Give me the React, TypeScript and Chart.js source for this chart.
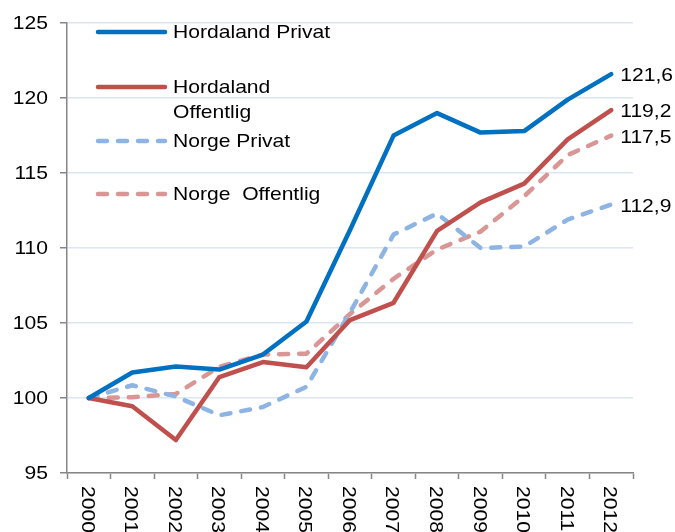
import React, { useEffect, useRef } from "react";
import { Chart, registerables } from "chart.js";

Chart.register(...registerables);

const years = ["2000", "2001", "2002", "2003", "2004", "2005", "2006", "2007", "2008", "2009", "2010", "2011", "2012"];
const hordalandPrivat = [100, 101.7, 102.1, 101.9, 102.9, 105.1, 111.2, 117.5, 119.0, 117.7, 117.8, 119.9, 121.6];
const hordalandOffentlig = [100, 99.45, 97.2, 101.4, 102.4, 102.05, 105.2, 106.35, 111.15, 113.05, 114.3, 117.25, 119.2];
const norgePrivat = [100, 100.85, 100.1, 98.85, 99.4, 100.75, 105.7, 110.9, 112.3, 110.0, 110.1, 111.9, 112.9];
const norgeOffentlig = [100, 100.05, 100.27, 102.08, 102.9, 102.96, 105.6, 107.95, 109.9, 111.1, 113.45, 116.2, 117.5];
const endLabels = ["121,6", "119,2", "112,9", "117,5"];
const seriesNames = [["Hordaland Privat"], ["Hordaland", "Offentlig"], ["Norge Privat"], ["Norge  Offentlig"]];
const yTicks = [95, 100, 105, 110, 115, 120, 125];

const FONT = '"Liberation Sans", Arial, sans-serif';
const FS = 18.5;
const SX = 1.14;

const colors = ["#0070C0", "#C0504D", "#8EB4E3", "#DA9694"];
const dashes: number[][] = [[], [], [9, 11], [9, 11]];

function drawText(ctx: CanvasRenderingContext2D, t: string, x: number, y: number, align: CanvasTextAlign, rot = 0) {
  ctx.save();
  ctx.translate(x, y);
  if (rot) ctx.rotate(rot);
  ctx.scale(SX, 1);
  ctx.textAlign = align;
  ctx.textBaseline = "middle";
  ctx.fillText(t, 0, 0);
  ctx.restore();
}

const overlayPlugin = {
  id: "overlay",
  afterDraw(chart: any) {
    const ctx = chart.ctx;
    const xs = chart.scales.x;
    const ys = chart.scales.y;
    const ca = chart.chartArea;
    ctx.save();
    ctx.fillStyle = "#000";
    ctx.font = `${FS}px ${FONT}`;
    // y tick labels
    yTicks.forEach((v) => {
      drawText(ctx, String(v), 48, ys.getPixelForValue(v) + 1, "right");
    });
    // rotated x labels
    years.forEach((y, i) => {
      const x = xs.getPixelForTick(i);
      drawText(ctx, y, x - 2, ca.bottom + 13, "left", Math.PI / 2);
    });
    // end labels
    chart.data.datasets.forEach((ds: any, di: number) => {
      const meta = chart.getDatasetMeta(di);
      const pt = meta.data[meta.data.length - 1];
      drawText(ctx, endLabels[di], pt.x + 9, pt.y + 2, "left");
    });
    // legend
    const legendYs = [32, 87, 141, 194];
    seriesNames.forEach((lines, i) => {
      const y = legendYs[i];
      ctx.save();
      ctx.strokeStyle = colors[i];
      ctx.lineWidth = 4.5;
      ctx.lineCap = "round";
      ctx.setLineDash(dashes[i]);
      ctx.beginPath();
      ctx.moveTo(98, y);
      ctx.lineTo(165, y);
      ctx.stroke();
      ctx.restore();
      lines.forEach((t, j) => {
        drawText(ctx, t, 173, y + 1 + j * 25, "left");
      });
    });
    ctx.restore();
  },
};

export default function App() {
  const ref = useRef<HTMLCanvasElement>(null);
  useEffect(() => {
    if (!ref.current) return;
    const mk = (label: string, data: number[], i: number) => ({
      label,
      data,
      borderColor: colors[i],
      backgroundColor: colors[i],
      borderWidth: 4.5,
      borderDash: dashes[i],
      borderCapStyle: "round" as const,
      borderJoinStyle: "round" as const,
      pointRadius: 0,
      tension: 0,
      fill: false,
    });
    const chart = new Chart(ref.current, {
      type: "line",
      data: {
        labels: years,
        datasets: [
          mk("Hordaland Privat", hordalandPrivat, 0),
          mk("Hordaland Offentlig", hordalandOffentlig, 1),
          mk("Norge Privat", norgePrivat, 2),
          mk("Norge Offentlig", norgeOffentlig, 3),
        ],
      },
      options: {
        animation: false,
        responsive: false,
        layout: { padding: { left: 0, top: 20, right: 42, bottom: 0 } },
        plugins: { legend: { display: false }, tooltip: { enabled: false } },
        scales: {
          x: {
            type: "category",
            offset: true,
            grid: {
              display: true,
              offset: true,
              drawOnChartArea: false,
              drawTicks: true,
              tickLength: 6,
              tickColor: "#868686",
              tickWidth: 1.5,
            },
            border: { display: true, color: "#868686", width: 1.5 },
            ticks: { display: false },
            afterFit: (s: any) => {
              s.height = 59;
            },
          },
          y: {
            min: 95,
            max: 125,
            afterBuildTicks: (s: any) => {
              s.ticks = yTicks.map((v) => ({ value: v }));
            },
            grid: {
              color: "#DCE6F2",
              lineWidth: 1.5,
              tickLength: 7,
              tickColor: "#868686",
              tickWidth: 1.5,
            },
            border: { display: true, color: "#868686", width: 1.5 },
            ticks: {
              color: "rgba(0,0,0,0)",
              padding: 12,
              font: { family: FONT, size: FS },
            },
            afterFit: (s: any) => {
              s.width = 67;
            },
          },
        },
      },
      plugins: [overlayPlugin],
    });
    return () => chart.destroy();
  }, []);
  return (
    <div style={{ position: "fixed", left: 0, top: 0, width: 675, height: 532, background: "#fff" }}>
      <canvas ref={ref} width={675} height={532} style={{ width: 675, height: 532 }} />
    </div>
  );
}
